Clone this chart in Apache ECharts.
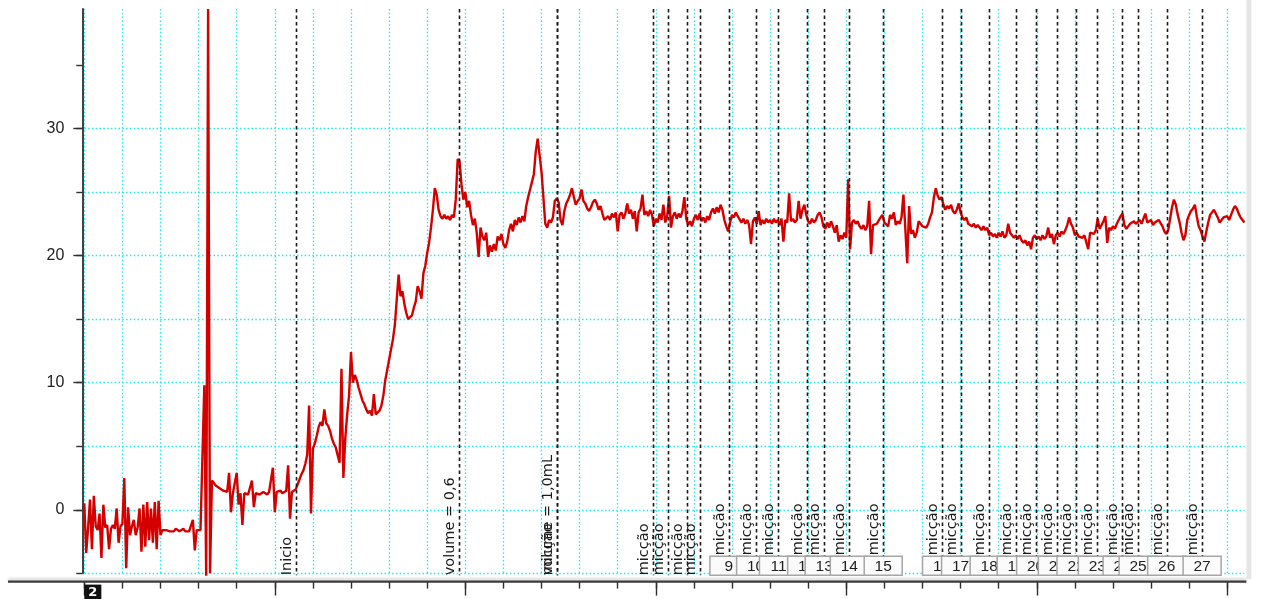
<!DOCTYPE html>
<html>
<head>
<meta charset="utf-8">
<title>Pressão vesical</title>
<script src="https://cdn.jsdelivr.net/npm/echarts@6/dist/echarts.min.js"></script>
<style>
  html, body { margin: 0; padding: 0; background: #ffffff; }
  #chart { width: 1263px; height: 599px; }
</style>
</head>
<body>
<div id="chart"></div>
<script>
// Recorded pressure trace, one sample every SAMPLE_STEP grid units of time
const SAMPLE_STEP = 0.05;
const pressure = [
  0.5,-3.4,-1.4,0.8,-3.1,1.1,-1.3,-1.6,-0.3,-3.8,
  0.4,-1.4,-1.2,-3.1,-1.5,-1.2,-1.5,0.1,-2.6,-1.3,
  -1.1,2.5,-4.6,0.2,-2.0,-1.3,-0.8,-2.0,-1.4,0.1,
  -3.3,0.4,-2.9,0.6,-2.4,0.1,-2.6,0.6,-3.1,0.7,
  -2.0,-1.6,-1.7,-1.6,-1.5,-1.7,-1.6,-1.7,-1.5,-1.6,
  -1.7,-1.6,-1.5,-1.7,-1.6,-1.7,-1.6,-0.8,-3.2,-1.6,
  -1.7,-1.6,-1.7,
  9.8,-5.2,39.4,-5.0,2.3,2.1,1.9,1.8,1.7,1.6,
  1.5,1.4,1.4,2.9,-0.2,1.3,1.4,2.9,0.4,1.3,
  -1.2,1.3,1.4,1.2,1.3,2.3,0.2,1.3,1.4,1.2,
  1.3,1.4,1.3,1.2,1.4,1.3,3.3,-0.2,1.4,1.3,
  1.5,1.3,1.4,1.5,3.5,-0.7,1.4,1.5,
  1.6,2.0,2.4,2.8,3.1,3.6,4.3,8.2,-0.3,4.8,
  5.2,5.8,6.5,6.9,6.6,7.9,6.8,6.6,6.2,5.6,
  5.2,4.9,4.3,3.7,11.1,2.5,5.6,7.5,9.0,12.4,
  10.0,10.6,10.2,9.6,9.1,8.6,8.3,7.9,7.6,7.8,
  7.4,9.1,7.5,7.6,7.8,8.2,9.0,10.2,11.0,11.8,
  12.6,13.4,14.5,16.5,18.5,16.8,17.2,16.2,15.5,15.0,
  14.9,15.3,15.9,16.4,17.6,17.2,16.6,18.6,19.2,20.2,
  21.0,22.2,23.6,25.3,24.8,23.6,23.1,22.9,23.2,22.9,
  23.1,22.8,23.2,23.0,24.4,27.6,27.4,25.6,24.4,25.0,
  23.8,24.3,23.2,22.4,22.9,21.8,19.9,22.2,21.5,21.2,
  21.8,19.9,20.8,20.3,20.9,20.4,21.5,21.2,21.7,20.9,
  20.6,21.1,22.0,22.5,21.9,22.8,22.4,23.0,22.6,23.1,
  22.7,23.9,24.6,25.2,25.8,26.4,28.2,29.2,27.9,26.6,
  24.6,22.5,22.2,22.8,22.6,23.0,24.3,24.5,24.2,22.8,
  22.4,23.5,24.1,24.4,24.8,25.3,24.6,24.0,24.3,24.5,
  25.2,24.3,24.1,23.7,23.5,23.8,24.2,24.4,24.1,23.6,
  23.9,23.3,22.8,22.9,23.1,22.8,23.3,23.0,23.4,21.9,
  23.2,23.4,22.9,23.3,24.1,23.3,23.6,22.9,23.5,21.9,
  23.4,23.7,24.8,23.2,23.5,23.1,23.6,23.2,22.3,22.9,
  22.6,23.3,22.8,24.0,22.6,23.1,24.7,22.2,23.1,23.4,
  22.9,23.3,23.0,23.5,24.6,22.9,22.4,22.7,22.3,22.9,
  23.2,22.8,23.3,22.7,23.0,22.6,23.1,22.8,23.4,23.7,
  23.3,23.8,23.4,24.0,23.6,22.8,22.3,21.9,22.6,23.2,
  23.0,23.4,23.1,23.0,22.6,22.9,22.5,22.8,22.4,20.9,
  22.7,23.0,22.5,23.5,22.4,22.8,22.5,22.9,22.6,22.8,
  22.5,22.9,22.6,22.8,22.4,22.9,21.1,22.8,22.6,24.9,
  22.7,22.9,22.6,22.8,24.3,22.9,23.6,24.0,23.2,22.7,
  22.5,22.9,22.6,22.8,23.2,23.4,23.0,22.3,22.1,22.6,
  22.2,22.7,22.3,21.8,22.4,21.1,21.6,21.3,21.8,21.4,
  26.0,20.5,22.6,22.8,22.5,22.7,22.3,22.1,22.4,22.0,
  22.3,24.3,20.1,22.4,22.3,22.5,22.4,23.0,23.2,22.6,
  22.5,22.3,23.2,22.9,23.4,22.4,22.7,22.5,23.0,24.8,
  22.1,19.4,23.9,21.7,22.0,21.4,21.8,22.7,22.6,22.3,
  22.4,22.2,22.5,23.0,23.4,24.6,25.3,24.7,24.4,24.6,
  24.0,23.6,23.9,23.7,24.0,23.5,23.3,23.6,24.1,23.4,
  23.0,22.8,23.0,22.5,22.6,22.3,22.5,22.2,22.4,22.3,
  22.0,22.3,22.0,22.2,21.6,21.8,21.5,21.7,21.4,21.8,
  21.5,21.9,21.4,21.6,22.5,21.8,21.9,21.4,21.6,21.3,
  21.6,21.2,21.0,21.2,20.8,21.1,20.5,21.4,21.6,21.3,
  21.5,21.2,21.6,21.3,21.5,22.2,21.4,21.7,20.9,21.6,
  21.8,21.5,21.9,21.7,22.0,22.4,23.0,22.5,22.2,21.6,
  21.8,21.5,21.6,21.4,21.6,21.5,20.5,21.8,21.9,21.7,
  22.0,22.9,22.1,22.4,22.7,23.1,21.0,22.2,22.0,22.3,
  22.1,22.5,22.8,23.1,23.3,22.4,22.1,22.2,22.5,22.4,
  22.7,22.5,22.6,22.8,22.5,22.4,23.3,22.6,22.5,22.8,
  22.4,22.6,22.5,22.8,22.7,22.3,21.9,21.7,22.0,22.9,
  23.8,24.4,24.0,23.2,22.6,21.8,21.2,21.6,22.8,23.2,
  23.5,23.7,24.0,23.1,22.3,22.0,21.5,21.1,21.9,22.6,
  23.2,23.4,23.6,23.5,23.0,22.6,22.8,23.0,22.9,23.1,
  22.8,23.2,23.6,23.9,23.7,23.3,23.0,22.8,22.6
];

// Event markers (time of each event and its annotation)
const eventTimes = [
  5.55, 9.84, 12.41, 12.41, 14.93, 15.33, 15.81, 16.16, 16.92, 17.62,
  18.22, 18.96, 19.42, 20.08, 20.97, 22.50, 23.00, 23.75, 24.46, 24.97,
  25.54, 26.03, 26.59, 27.24, 27.66, 28.41, 29.34
];
const eventLabels = [
  'Inicio', 'volume = 0,6', 'volume = 1,0mL', 'micção', 'micção', 'micção', 'micção', 'micção', 'micção', 'micção',
  'micção', 'micção', 'micção', 'micção', 'micção', 'micção', 'micção', 'micção', 'micção', 'micção',
  'micção', 'micção', 'micção', 'micção', 'micção', 'micção', 'micção'
];
// events from this number on carry a numbered tag
const FIRST_TAGGED_EVENT = 9;

// Axis ticks and labels
const yTickValues = [-5, 0, 5, 10, 15, 20, 25, 30, 35];
const yLabelValues = [0, 10, 20, 30];
const xTickValues = [0,1,2,3,4,5,6,7,8,9,10,11,12,13,14,15,16,17,18,19,20,21,22,23,24,25,26,27,28,29,30];
const xMajorTickValues = [0, 5, 10, 15, 20, 25, 30];
const xCornerLabel = '2';

const X_MIN = 0, X_MAX = 30.45, Y_MIN = -5, Y_MAX = 39.4;

const TAG_W = 38, TAG_H = 19;
const LABEL_FONT = '14.5px "DejaVu Sans", sans-serif';

const chart = echarts.init(document.getElementById('chart'), null, { renderer: 'canvas' });

const gridDots = { color: '#1deaea', width: 1.3, type: [1.5, 2.3] };
const tickStyle = { color: '#2e2e2e', width: 1.4 };

function renderEvent(params, api) {
  const t = api.value(0);
  const idx = api.value(2);
  const top = api.coord([t, Y_MAX]);
  const bot = api.coord([t, Y_MIN]);
  const x = Math.round(top[0]) + 0.5;
  const lineBottom = bot[1] + 2;
  const tagged = idx + 1 >= FIRST_TAGGED_EVENT;
  const textBottom = tagged ? lineBottom - TAG_H - 1 : lineBottom;
  return {
    type: 'group',
    children: [
      { type: 'line', shape: { x1: x, y1: top[1], x2: x, y2: lineBottom },
        style: { stroke: '#1a1a1a', lineWidth: 1.6, lineDash: [3.5, 3] } },
      { type: 'text', x: x - 2, y: textBottom, rotation: Math.PI / 2,
        style: { text: eventLabels[idx], fill: '#1a1a1a', font: LABEL_FONT, align: 'left', verticalAlign: 'bottom' } }
    ]
  };
}

function renderTag(params, api) {
  const c = api.coord([api.value(0), Y_MIN]);
  const bottom = c[1] + 2;
  return {
    type: 'group',
    children: [
      { type: 'rect', shape: { x: c[0] - TAG_W / 2, y: bottom - TAG_H, width: TAG_W, height: TAG_H },
        style: { fill: '#fbfbfb', stroke: '#a6a6a6', lineWidth: 1.5 } },
      { type: 'text', x: c[0], y: bottom - TAG_H / 2 + 1,
        style: { text: String(api.value(2)), fill: '#1e1e1e', font: '15.5px "Liberation Sans", sans-serif', align: 'center', verticalAlign: 'middle' } }
    ]
  };
}

const eventData = eventTimes.map((t, i) => [t, Y_MIN, i]);
const tagData = eventTimes
  .map((t, i) => [t, Y_MIN, i + 1])
  .filter(d => d[2] >= FIRST_TAGGED_EVENT);

const option = {
  animation: false,
  backgroundColor: '#ffffff',
  grid: { left: 84.3, right: 18.6, top: 9, bottom: 25.7, containLabel: false, outerBoundsMode: 'none' },
  xAxis: [
    {
      type: 'value', min: X_MIN, max: X_MAX, interval: 1, position: 'bottom',
      axisLine: { show: false, onZero: false }, axisTick: { show: false }, axisLabel: { show: false },
      splitLine: { show: true, showMinLine: true, showMaxLine: false, lineStyle: gridDots }
    },
    {
      type: 'value', min: X_MIN, max: X_MAX, interval: 1, position: 'bottom', offset: 8.3,
      axisLine: { show: false, onZero: false },
      axisTick: { show: true, customValues: xTickValues, length: 7, lineStyle: tickStyle },
      axisLabel: { show: false }, splitLine: { show: false }
    },
    {
      type: 'value', min: X_MIN, max: X_MAX, interval: 5, position: 'bottom', offset: 8.3,
      axisLine: { show: false, onZero: false },
      axisTick: { show: true, customValues: xMajorTickValues, length: 14, lineStyle: tickStyle },
      axisLabel: {
        show: true, customValues: [0], formatter: () => xCornerLabel, align: 'left', margin: 3,
        color: '#ffffff', backgroundColor: '#111111', fontWeight: 'bold', fontSize: 13,
        fontFamily: '"DejaVu Sans", sans-serif', padding: [2, 4, 6, 4]
      },
      splitLine: { show: false }
    }
  ],
  yAxis: [
    {
      type: 'value', min: Y_MIN, max: Y_MAX, interval: 5, position: 'left', offset: 2,
      axisLine: { show: true, onZero: false, lineStyle: { color: '#2e2e2e', width: 1.8 } },
      axisTick: { show: true, customValues: yTickValues, length: 6, lineStyle: tickStyle },
      axisLabel: { show: false },
      splitLine: { show: true, showMinLine: true, showMaxLine: false, lineStyle: gridDots }
    },
    {
      type: 'value', min: Y_MIN, max: Y_MAX, position: 'left', offset: 2,
      axisLine: { show: false, onZero: false },
      axisTick: { show: true, customValues: yLabelValues, length: 9, lineStyle: tickStyle },
      axisLabel: { show: true, customValues: yLabelValues, margin: 18, color: '#222',
        fontSize: 16, fontFamily: '"Liberation Sans", sans-serif' },
      splitLine: { show: false }
    }
  ],
  series: [
    {
      type: 'line', xAxisIndex: 0, yAxisIndex: 0, silent: true, clip: false, z: 2,
      showSymbol: false, symbol: 'none',
      data: pressure.map((v, i) => [+(i * SAMPLE_STEP).toFixed(2), v]),
      lineStyle: { color: '#d40000', width: 2.4, join: 'bevel' }
    },
    {
      type: 'custom', xAxisIndex: 0, yAxisIndex: 0, silent: true, clip: false, z: 3,
      encode: { x: 0, y: 1 }, data: eventData, renderItem: renderEvent
    },
    {
      type: 'custom', xAxisIndex: 0, yAxisIndex: 0, silent: true, clip: false, z: 4,
      encode: { x: 0, y: 1 }, data: tagData, renderItem: renderTag
    }
  ]
};

chart.setOption(option);

// bottom frame rule below the plot and the thin side rule at the right
const plotBottom = chart.convertToPixel({ yAxisIndex: 0 }, Y_MIN);
const plotRight = chart.convertToPixel({ xAxisIndex: 0 }, X_MAX);
chart.setOption({
  graphic: [
    { type: 'line', silent: true, z: 1,
      shape: { x1: 8, y1: plotBottom + 8.3, x2: plotRight + 2, y2: plotBottom + 8.3 },
      style: { stroke: '#3a3a3a', lineWidth: 2.2, shadowColor: 'rgba(0,0,0,0.2)', shadowBlur: 3, shadowOffsetY: -2 } },
    { type: 'rect', silent: true, z: 1,
      shape: { x: plotRight + 2, y: 0, width: 5, height: plotBottom + 6 },
      style: { fill: '#e6e6e6' } }
  ]
});
</script>
</body>
</html>
